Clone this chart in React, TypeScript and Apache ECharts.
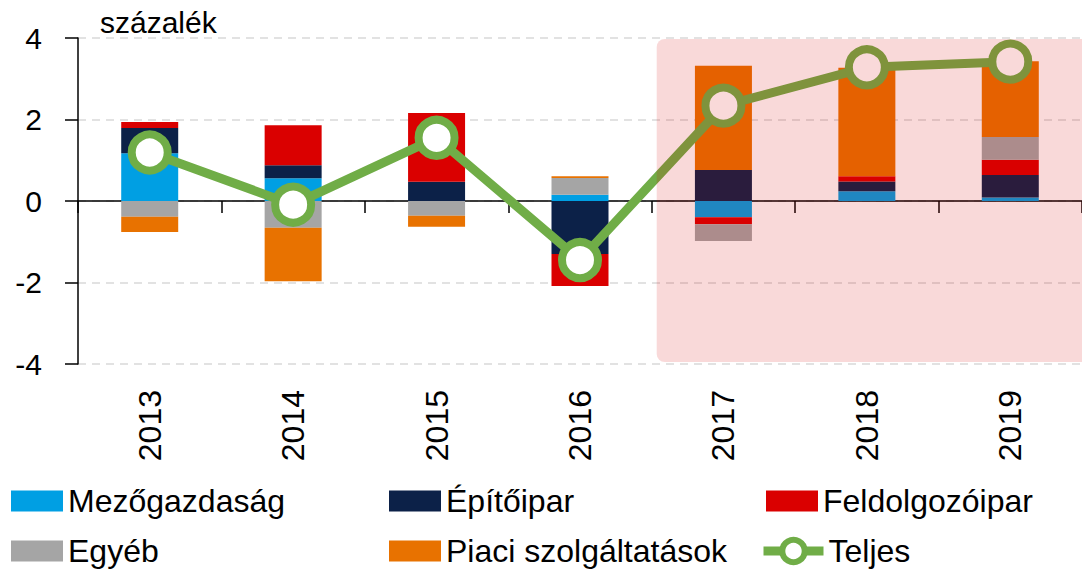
import React, { useEffect, useRef } from "react";
import * as echarts from "echarts";

const categories = ["2013", "2014", "2015", "2016", "2017", "2018", "2019"];
const mezogazdasag = [1.17, 0.56, 0, 0.155, -0.4, 0.24, 0.085];
const epitoipar = [0.62, 0.32, 0.47, -1.3, 0.76, 0.24, 0.55];
const feldolgozoipar = [0.15, 0.98, 1.69, -0.785, -0.17, 0.13, 0.38];
const egyeb = [-0.385, -0.655, -0.36, 0.41, -0.41, 0, 0.555];
const piaci = [-0.375, -1.315, -0.27, 0.04, 2.56, 2.66, 1.86];
const teljes = [1.19, -0.09, 1.55, -1.45, 2.34, 3.28, 3.42];
const yTicks = [-4, -2, 0, 2, 4];

const FONT = "Liberation Sans";

export default function App() {
  const ref = useRef<HTMLDivElement>(null);
  useEffect(() => {
    if (!ref.current) return;
    const chart = echarts.init(ref.current, undefined, { renderer: "svg" });
    const barSeries = (name: string, data: number[], color: string) => ({
      name,
      type: "bar",
      stack: "total",
      data,
      barWidth: 57,
      itemStyle: { color },
      xAxisIndex: 0,
      yAxisIndex: 0,
    });
    const legendText = { fontSize: 32, lineHeight: 32, color: "#000", fontFamily: FONT };
    const legendBase = {
      orient: "vertical",
      top: 485,
      height: 140,
      itemWidth: 52,
      itemHeight: 21,
      itemGap: 18,
      padding: 0,
      textStyle: legendText,
    };
    chart.setOption({
      animation: false,
      textStyle: { fontFamily: FONT },
      title: {
        text: "százalék",
        left: 95,
        top: 2,
        textStyle: { fontSize: 30, fontWeight: "normal", color: "#000", fontFamily: FONT },
      },
      grid: { left: 78, top: 38, width: 1006, height: 326, containLabel: false },
      legend: [
        { ...legendBase, left: 11, icon: "rect", data: ["Mezőgazdaság", "Egyéb"] },
        { ...legendBase, left: 389, icon: "rect", data: ["Építőipar", "Piaci szolgáltatások"] },
        { ...legendBase, left: 766, icon: "rect", data: ["Feldolgozóipar"] },
        {
          ...legendBase,
          left: 759,
          top: 535,
          itemWidth: 60,
          itemHeight: 28,
          data: [
            {
              name: "Teljes",
              lineStyle: { width: 9, color: "#70AD47" },
              itemStyle: { color: "#FFFFFF", borderColor: "#70AD47", borderWidth: 6 },
            },
          ],
        },
      ],
      xAxis: [
        {
          type: "category",
          data: categories,
          position: "bottom",
          axisLine: { onZero: true, lineStyle: { color: "#000", width: 1.5 } },
          axisTick: { show: true, length: 12, lineStyle: { color: "#000", width: 1.5 } },
          axisLabel: { show: false },
          splitLine: { show: false },
        },
        {
          type: "category",
          data: categories,
          position: "bottom",
          axisLine: { show: false, onZero: false },
          axisTick: { show: false },
          axisLabel: { rotate: 90, fontSize: 32, margin: 26, color: "#000", fontFamily: FONT },
          splitLine: { show: false },
        },
      ],
      yAxis: {
        type: "value",
        min: yTicks[0],
        max: yTicks[yTicks.length - 1],
        interval: 2,
        axisLine: { show: true, lineStyle: { color: "#000", width: 1.5 } },
        axisTick: { show: true, length: 13, lineStyle: { color: "#000", width: 1.5 } },
        axisLabel: { fontSize: 30, margin: 36, color: "#000", fontFamily: FONT },
        splitLine: { show: true, lineStyle: { color: "#D9D9D9", width: 1.5, type: [8, 6] } },
      },
      series: [
        barSeries("Mezőgazdaság", mezogazdasag, "#009FE3"),
        barSeries("Építőipar", epitoipar, "#0C2148"),
        barSeries("Feldolgozóipar", feldolgozoipar, "#DA0000"),
        barSeries("Egyéb", egyeb, "#A5A5A5"),
        barSeries("Piaci szolgáltatások", piaci, "#E87200"),
        {
          name: "Teljes",
          type: "line",
          data: teljes,
          xAxisIndex: 0,
          yAxisIndex: 0,
          z: 5,
          symbol: "circle",
          symbolSize: 36,
          lineStyle: { color: "#70AD47", width: 9 },
          itemStyle: { color: "#FFFFFF", borderColor: "#70AD47", borderWidth: 8 },
        },
      ],
    });

    const c1 = chart.convertToPixel({ xAxisIndex: 0 }, "2017") as number;
    const c2 = chart.convertToPixel({ xAxisIndex: 0 }, "2018") as number;
    const band = c2 - c1;
    const left = c1 - band / 2 + 5;
    const top = (chart.convertToPixel({ yAxisIndex: 0 }, 4) as number) + 1;
    const bottom = (chart.convertToPixel({ yAxisIndex: 0 }, -4) as number) - 2;
    chart.setOption({
      graphic: [
        {
          type: "rect",
          z: 100,
          silent: true,
          shape: { x: left, y: top, width: chart.getWidth() - left + 20, height: bottom - top, r: 8 },
          style: { fill: "rgba(218,0,0,0.15)" },
        },
      ],
    });

    return () => chart.dispose();
  }, []);
  return (
    <div
      ref={ref}
      style={{ position: "fixed", left: 0, top: 0, width: 1082, height: 570, background: "#fff" }}
    />
  );
}
